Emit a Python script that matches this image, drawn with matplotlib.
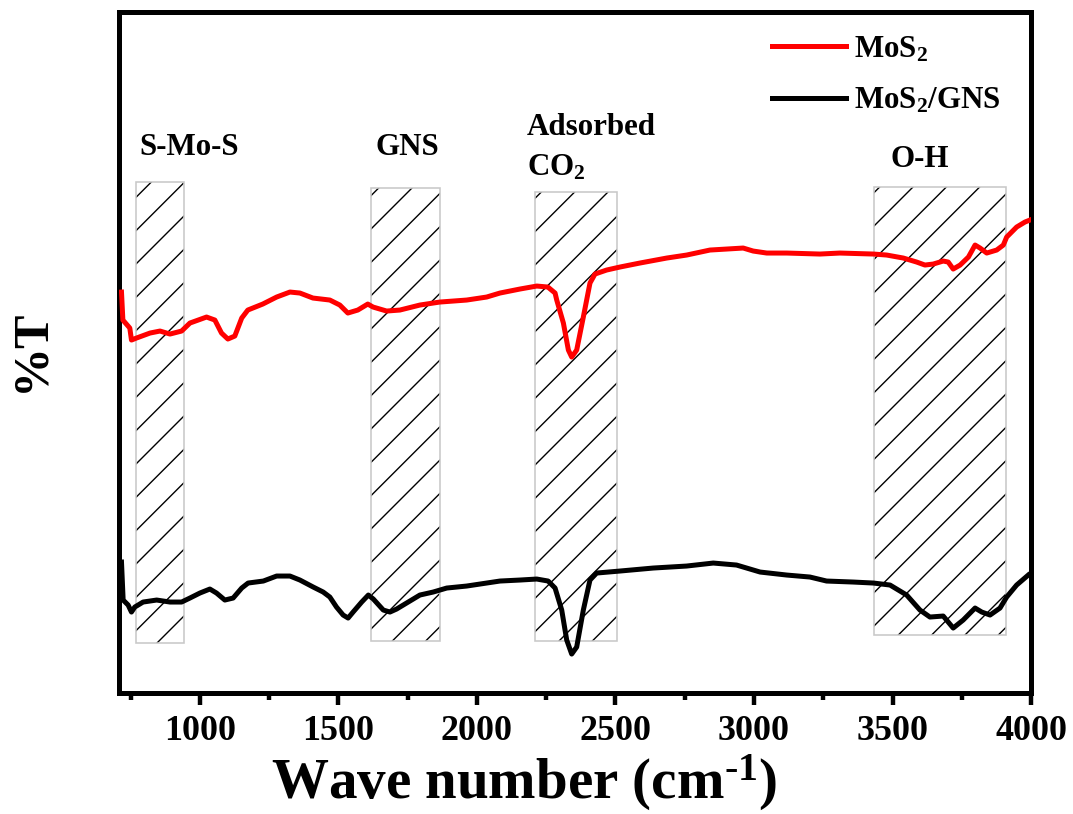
import matplotlib
matplotlib.use("Agg")
from matplotlib import pyplot as plt
from matplotlib.patches import Rectangle

# FTIR spectra (wavenumber in cm-1, transmittance in arbitrary units)
mos2_wn = [717, 722, 747, 753, 771, 820, 856, 892, 934, 964, 1024, 1054, 1078, 1101,
           1126, 1151, 1173, 1227, 1277, 1325, 1361, 1408, 1469, 1505, 1534, 1570,
           1606, 1625, 1674, 1722, 1794, 1866, 1963, 2035, 2083, 2155, 2216, 2256,
           2282, 2288, 2312, 2330, 2342, 2360, 2384, 2408, 2426, 2468, 2516, 2588,
           2685, 2757, 2841, 2901, 2961, 2997, 3046, 3118, 3238, 3310, 3431, 3479,
           3539, 3587, 3617, 3647, 3683, 3701, 3719, 3744, 3774, 3798, 3816, 3840,
           3876, 3900, 3912, 3948, 3978, 3996]
mos2_t = [40.1, 37.3, 36.5, 35.3, 35.5, 36.0, 36.2, 35.9, 36.2, 37.0, 37.6, 37.3, 36.0,
          35.4, 35.7, 37.5, 38.3, 38.9, 39.6, 40.1, 40.0, 39.5, 39.3, 38.8, 38.0, 38.3,
          38.9, 38.6, 38.2, 38.3, 38.8, 39.1, 39.3, 39.6, 40.0, 40.4, 40.7, 40.6,
          40.0, 39.3, 37.0, 34.3, 33.6, 34.3, 37.6, 41.0, 41.9, 42.3, 42.6, 43.0,
          43.5, 43.8, 44.3, 44.4, 44.5, 44.2, 44.0, 44.0, 43.9, 44.0, 43.9, 43.8,
          43.5, 43.1, 42.8, 42.9, 43.2, 43.1, 42.4, 42.8, 43.6, 44.8, 44.5, 44.0,
          44.3, 44.8, 45.6, 46.6, 47.1, 47.3]

gns_wn = [717, 723, 741, 753, 765, 795, 844, 892, 934, 964, 1000, 1036, 1060, 1090,
          1120, 1151, 1174, 1229, 1277, 1325, 1361, 1409, 1445, 1469, 1493, 1517,
          1535, 1553, 1584, 1608, 1626, 1662, 1686, 1710, 1746, 1794, 1842, 1891,
          1963, 2035, 2083, 2155, 2216, 2257, 2282, 2306, 2324, 2342, 2360, 2384,
          2408, 2432, 2516, 2636, 2757, 2853, 2937, 3022, 3118, 3202, 3262, 3358,
          3431, 3491, 3551, 3599, 3635, 3683, 3719, 3755, 3798, 3822, 3852, 3888,
          3912, 3948, 3990]
gns_t = [13.1, 9.3, 8.8, 8.1, 8.6, 9.1, 9.3, 9.1, 9.1, 9.5, 10.0, 10.4, 10.0, 9.3,
         9.5, 10.5, 11.0, 11.2, 11.7, 11.7, 11.3, 10.6, 10.1, 9.6, 8.6, 7.8,
         7.5, 8.1, 9.1, 9.8, 9.4, 8.3, 8.1, 8.4, 9.0, 9.8, 10.1, 10.5,
         10.7, 11.0, 11.2, 11.3, 11.4, 11.2, 10.5, 8.3, 5.3, 3.9, 4.6, 8.3,
         11.3, 12.0, 12.2, 12.5, 12.7, 13.0, 12.8, 12.1, 11.8, 11.6, 11.2, 11.1,
         11.0, 10.8, 9.8, 8.3, 7.6, 7.7, 6.5, 7.3, 8.5, 8.1, 7.8, 8.5,
         9.6, 10.8, 11.8]

# shaded band regions: x start, x end, y bottom, y top
band_lo = [769, 1619, 2209, 3433]
band_hi = [942, 1868, 2504, 3908]
band_bottom = [5.0, 5.2, 5.2, 5.8]
band_top = [51.1, 50.5, 50.1, 50.6]

plt.rcParams['font.family'] = ['Liberation Serif', 'DejaVu Serif']
plt.rcParams['font.weight'] = 'bold'
plt.rcParams['mathtext.fontset'] = 'custom'
plt.rcParams['mathtext.rm'] = 'Liberation Serif:bold'
plt.rcParams['mathtext.bf'] = 'Liberation Serif:bold'
plt.rcParams['mathtext.it'] = 'Liberation Serif:bold'
plt.rcParams['hatch.linewidth'] = 1.0

dpi = 100
fig = plt.figure(figsize=(1073 / dpi, 814 / dpi), dpi=dpi)
ax = fig.add_axes([0.1109, 0.1486, 0.85, 0.8366])

# hatched bands, then a thin grey outline around each
for lo, hi, b, t in zip(band_lo, band_hi, band_bottom, band_top):
    ax.add_patch(Rectangle((lo, b), hi - lo, t - b, facecolor='none',
                           edgecolor='black', hatch='/', linewidth=0, zorder=1))
    ax.add_patch(Rectangle((lo, b), hi - lo, t - b, facecolor='none',
                           edgecolor='#c8c8c8', linewidth=1.15, zorder=1.5))

ax.plot(mos2_wn, mos2_t, color='#ff0000', lw=3.6, label='MoS$_2$', zorder=3)
ax.plot(gns_wn, gns_t, color='black', lw=3.6, label='MoS$_2$/GNS', zorder=3)

fs = 22.3
ax.text(780, 53.8, "S-Mo-S", fontsize=fs, fontweight='bold')
ax.text(1635, 53.8, "GNS", fontsize=fs, fontweight='bold')
ax.text(2180, 55.8, "Adsorbed", fontsize=fs, fontweight='bold')
ax.text(2180, 51.8, "CO$_2$", fontsize=fs, fontweight='bold')
ax.text(3494, 52.6, "O-H", fontsize=fs, fontweight='bold')

ax.set_xlim(708, 4000)
ax.set_ylim(0, 68.1)
ax.set_xticks(range(1000, 4001, 500))
ax.set_xticks(range(750, 4001, 500), minor=True)
ax.set_yticks([])
ax.tick_params(axis='x', which='major', direction='out', length=8.6, width=3.2,
               labelsize=25.9, pad=7)
ax.tick_params(axis='x', which='minor', direction='out', length=5, width=3.2)
for lab in ax.get_xticklabels():
    lab.set_fontweight('bold')
for sp in ax.spines.values():
    sp.set_linewidth(3.6)

ax.set_xlabel(r"Wave number (cm$^{\text{-1}}$)", fontsize=41, fontweight='bold')
ax.xaxis.set_label_coords(0.444, -0.088)
ax.set_ylabel("%T", fontsize=36, fontweight='bold')
ax.yaxis.set_label_coords(-0.071, 0.504)

ax.legend(loc='upper left', bbox_to_anchor=(0.716, 0.967), frameon=False,
          fontsize=fs, handlelength=2.4, handletextpad=0.26, borderpad=0,
          borderaxespad=0, labelspacing=0.72)

plt.savefig("out.png", dpi=dpi)
